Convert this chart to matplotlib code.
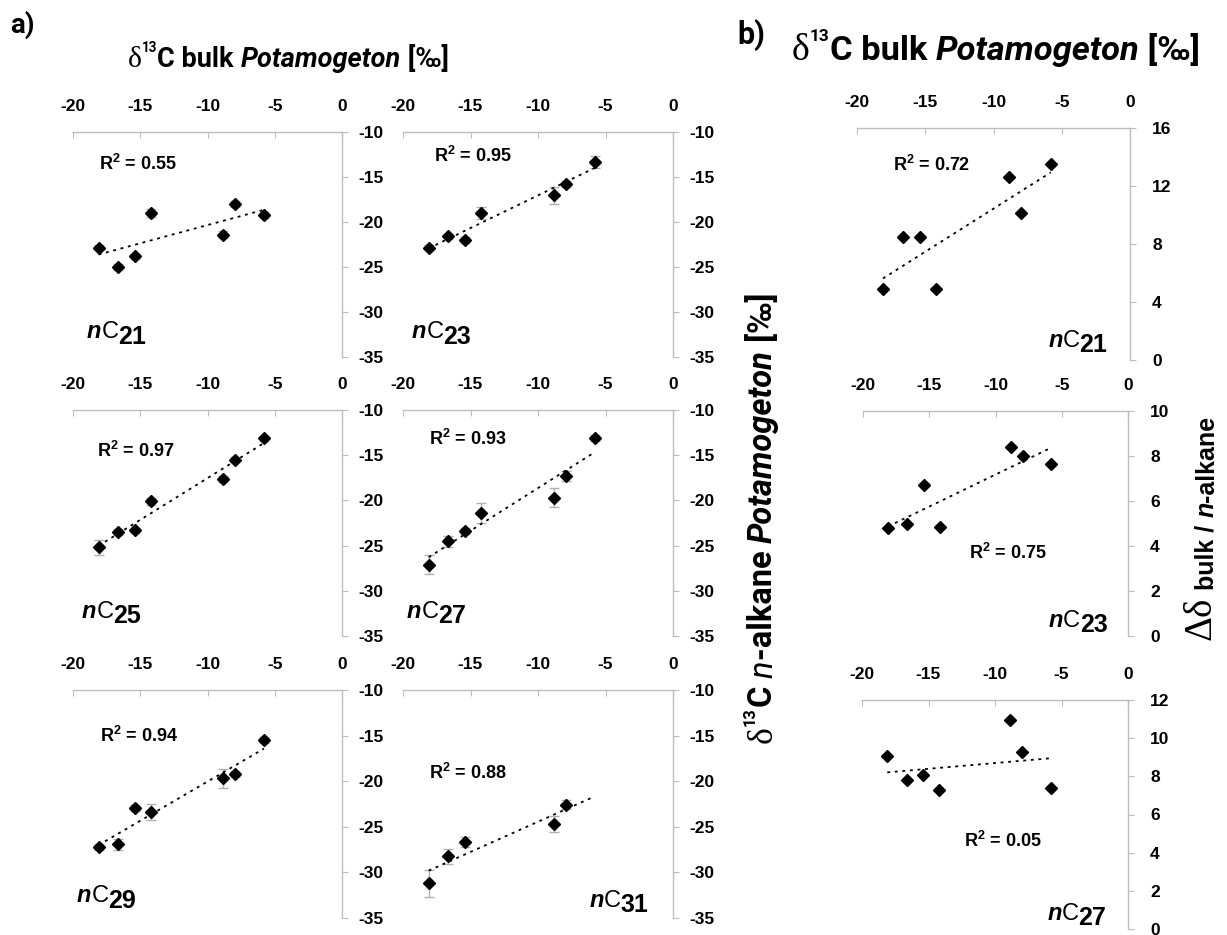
import numpy as np
import matplotlib
matplotlib.use('Agg')
import matplotlib.pyplot as plt

plt.rcParams['font.family'] = ['Liberation Sans', 'DejaVu Sans']
plt.rcParams['font.weight'] = 'bold'
plt.rcParams['axes.unicode_minus'] = False
plt.rcParams['mathtext.fontset'] = 'custom'
plt.rcParams['mathtext.rm'] = 'Liberation Sans:bold'
plt.rcParams['mathtext.bf'] = 'Liberation Sans:bold'
plt.rcParams['mathtext.it'] = 'Liberation Sans:italic:bold'

W, H = 1227, 935

# d13C bulk Potamogeton (x values, shared by all panels)
bulk = [-18.1, -16.65, -15.4, -14.2, -8.85, -7.95, -5.8]

# panel a: d13C n-alkane Potamogeton
c21 = [-22.85, -25.0, -23.8, -19.0, -21.4, -18.0, -19.2]
c23 = [-22.85, -21.6, -22.0, -19.0, -17.05, -15.8, -13.3]
c25 = [-25.2, -23.5, -23.3, -20.1, -17.65, -15.5, -13.15]
c27 = [-27.1, -24.5, -23.4, -21.4, -19.7, -17.25, -13.1]
c29 = [-27.2, -26.9, -22.95, -23.4, -19.7, -19.2, -15.5]
c31 = [-31.2, -28.25, -26.7, np.nan, -24.7, -22.6, np.nan]

c21_err = [0.3, 0.3, 0.3, 0.4, 0.35, 0.3, 0.3]
c23_err = [0.3, 0.3, 0.3, 0.65, 0.9, 0.35, 0.65]
c25_err = [0.8, 0.3, 0.3, 0.4, 0.3, 0.3, 0.3]
c27_err = [1.05, 0.6, 0.3, 1.15, 1.05, 0.55, 0.3]
c29_err = [0.3, 0.6, 0.3, 0.85, 1.0, 0.3, 0.3]
c31_err = [1.45, 0.85, 0.55, np.nan, 0.85, 0.5, np.nan]

r2_a = ['0.55', '0.95', '0.97', '0.93', '0.94', '0.88']
names_a = ['21', '23', '25', '27', '29', '31']

# panel b: delta bulk / n-alkane
d21 = [4.9, 8.45, 8.45, 4.9, 12.65, 10.15, 13.5]
d23 = [4.8, 5.0, 6.7, 4.85, 8.4, 8.0, 7.65]
d27 = [9.05, 7.8, 8.05, 7.3, 10.95, 9.3, 7.4]
r2_b = ['0.72', '0.75', '0.05']
names_b = ['21', '23', '27']

gray = '#bdbdbd'
tfont = 'Roboto'

fig = plt.figure(figsize=(W / 100, H / 100), dpi=100)


def px_axes(l, t, r, b):
    return fig.add_axes([l / W, 1 - b / H, (r - l) / W, (b - t) / H])


def style(ax, ylim, ystep, xpad=13, ypad=8):
    ax.set_xlim(-20, 0)
    ax.set_ylim(*ylim)
    xt = np.arange(-20, 1, 5)
    yt = np.arange(ylim[0], ylim[1] + 0.1, ystep)
    ax.set_xticks(xt, [f'{v:g}' for v in xt], fontweight='bold', fontsize=12.5)
    ax.set_yticks(yt, [f'{v:g}' for v in yt], fontweight='bold', fontsize=12.5)
    ax.xaxis.tick_top()
    ax.yaxis.tick_right()
    for s in ['left', 'bottom']:
        ax.spines[s].set_visible(False)
    for s in ['top', 'right']:
        ax.spines[s].set_color(gray)
        ax.spines[s].set_linewidth(1)
    ax.tick_params(axis='x', direction='in', length=4, color=gray, pad=xpad)
    ax.tick_params(axis='y', direction='out', length=4, color=gray, pad=ypad)
    ax.patch.set_alpha(0)


def scatter_fit(ax, y, err=None):
    x = np.array(bulk)
    y = np.array(y, dtype=float)
    ok = ~np.isnan(y)
    if err is not None:
        ax.errorbar(x[ok], y[ok], yerr=np.array(err)[ok], fmt='none', ecolor='#b0b0b0',
                    elinewidth=1, capsize=3.5, capthick=1, zorder=2)
    k, c = np.polyfit(x[ok], y[ok], 1)
    xx = np.array([x.min(), x.max()])
    ax.plot(xx, k * xx + c, color='black', lw=1.3, ls=(0, (1.6, 2.6)), zorder=3)
    ax.plot(x[ok], y[ok], 'D', color='black', ms=6.5, zorder=4)


def nlabel(ax, xf, yf, num):
    t1 = ax.text(xf, yf, 'n', transform=ax.transAxes, fontsize=17, style='italic',
                 weight='bold', ha='left', va='baseline')
    t2 = ax.annotate('C', xy=(1, 0), xycoords=t1, fontsize=17, weight='normal',
                     ha='left', va='bottom')
    ax.annotate(num, xy=(1, 0), xycoords=t2, xytext=(0, -4), textcoords='offset points',
                fontsize=18, weight='bold', ha='left', va='bottom')


# panel a axes (pixel boxes)
a_cols = [(73, 342), (403, 673)]
a_rows = [(132, 357), (410, 636), (690, 918)]
a_data = [c21, c23, c25, c27, c29, c31]
a_err = [c21_err, c23_err, c25_err, c27_err, c29_err, c31_err]
a_r2pos = [(0.095, 0.857), (0.116, 0.893), (0.091, 0.82), (0.098, 0.87), (0.099, 0.80), (0.098, 0.637)]
a_npos = [(0.052, 0.083), (0.033, 0.083), (0.033, 0.08), (0.015, 0.08), (0.015, 0.07), (0.69, 0.05)]

for i in range(6):
    r, c = divmod(i, 2)
    ax = px_axes(a_cols[c][0], a_rows[r][0], a_cols[c][1], a_rows[r][1])
    style(ax, (-35, -10), 5)
    scatter_fit(ax, a_data[i], a_err[i])
    ax.text(a_r2pos[i][0], a_r2pos[i][1], 'R$^{2}$ = ' + r2_a[i], transform=ax.transAxes,
            fontsize=13, weight='bold', ha='left', va='center')
    nlabel(ax, a_npos[i][0], a_npos[i][1], names_a[i])

# panel b axes
b_boxes = [(857, 128, 1130, 360), (863, 411, 1128, 636), (862, 700, 1128, 929)]
b_data = [d21, d23, d27]
b_ylim = [(0, 16), (0, 10), (0, 12)]
b_step = [4, 2, 2]
b_r2pos = [(0.133, 0.84), (0.401, 0.368), (0.385, 0.384)]
b_npos = [(0.70, 0.057), (0.70, 0.041), (0.696, 0.04)]

for i in range(3):
    ax = px_axes(*b_boxes[i])
    style(ax, b_ylim[i], b_step[i], xpad=13, ypad=12)
    scatter_fit(ax, b_data[i])
    ax.text(b_r2pos[i][0], b_r2pos[i][1], 'R$^{2}$ = ' + r2_b[i], transform=ax.transAxes,
            fontsize=13, weight='bold', ha='left', va='center')
    nlabel(ax, b_npos[i][0], b_npos[i][1], names_b[i])

# overlay axes for figure texts
tax = fig.add_axes([0, 0, 1, 1])
tax.axis('off')


def rich(parts, x0, y0, rotation=0):
    prev = None
    for s, kw, dy in parts:
        if rotation == 0:
            if prev is None:
                xy, xyc = (x0, y0 + dy), 'figure pixels'
            else:
                xy, xyc = (1, y0 + dy), (prev, 'figure pixels')
        else:
            if prev is None:
                xy, xyc = (x0 - dy, y0), 'figure pixels'
            else:
                xy, xyc = (x0 - dy, 1), ('figure pixels', prev)
        prev = tax.annotate(s, xy=xy, xycoords=xyc, ha='left', va='baseline',
                            rotation=rotation, rotation_mode='anchor', **kw)
    return prev


def title_parts(fs):
    return [
        ('δ', dict(fontsize=fs * 1.1, family='Liberation Serif', weight='normal'), 0),
        ('13', dict(fontsize=fs * 0.5, family=tfont, weight='bold'), fs * 0.75),
        ('C bulk ', dict(fontsize=fs, family=tfont, weight='bold'), 0),
        ('Potamogeton', dict(fontsize=fs, family=tfont, weight='bold', style='italic'), 0),
        (' [‰]', dict(fontsize=fs, family=tfont, weight='bold'), 0),
    ]


rich(title_parts(19.5), 128, H - 67)
rich(title_parts(24.8), 792, H - 60)

tax.text(10 / W, 1 - 33 / H, 'a)', fontsize=20, family=tfont, weight='bold',
         ha='left', va='baseline', transform=fig.transFigure)
tax.text(737 / W, 1 - 44 / H, 'b)', fontsize=22, family=tfont, weight='bold',
         ha='left', va='baseline', transform=fig.transFigure)

fs = 23.5
rich([
    ('δ', dict(fontsize=fs * 1.1, family='Liberation Serif', weight='normal'), 0),
    ('13', dict(fontsize=fs * 0.5, family=tfont, weight='bold'), fs * 0.75),
    ('C ', dict(fontsize=fs, family=tfont, weight='bold'), 0),
    ('n', dict(fontsize=fs, family=tfont, weight='normal', style='italic'), 0),
    ('-alkane ', dict(fontsize=fs, family=tfont, weight='bold'), 0),
    ('Potamogeton', dict(fontsize=fs, family=tfont, weight='bold', style='italic'), 0),
    (' [‰]', dict(fontsize=fs, family=tfont, weight='bold'), 0),
], 772, H - 743, rotation=90)

rich([
    ('Δδ', dict(fontsize=28, family='Liberation Serif', weight='normal'), 0),
    (' bulk / ', dict(fontsize=18, family='Liberation Sans', weight='bold'), -3),
    ('n', dict(fontsize=18, family='Liberation Sans', weight='bold', style='italic'), -3),
    ('-alkane', dict(fontsize=18, family='Liberation Sans', weight='bold'), -3),
], 1211, H - 640, rotation=90)

plt.savefig('out.png', dpi=100)
